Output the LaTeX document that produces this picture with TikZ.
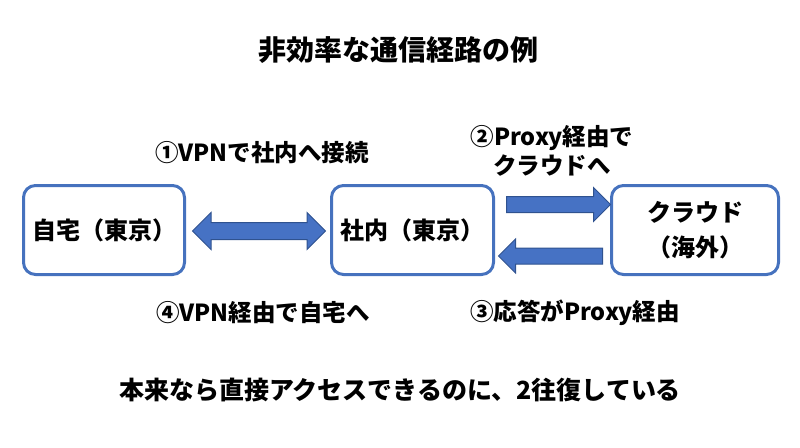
\documentclass[tikz,border=0pt]{standalone}
\usepackage{fontspec}
\setmainfont{Noto Sans CJK JP}[BoldFont={Noto Sans CJK JP Black}]
\usetikzlibrary{shapes.arrows}

\definecolor{boxline}{RGB}{70,114,190}
\definecolor{arrowfill}{RGB}{70,114,196}
\definecolor{arrowline}{RGB}{47,82,143}

\begin{document}
\begin{tikzpicture}[x=1pt,y=-1pt,
  site/.style={draw=boxline,line width=3pt,rounded corners=12pt,minimum height=89pt,
    font=\fontsize{24}{35}\selectfont\bfseries,align=center},
  note/.style={font=\fontsize{23.5}{29}\selectfont\bfseries,align=center},
  fatarrow/.style={single arrow,draw=arrowline,fill=arrowfill,line width=1pt,
    inner sep=0pt,inner ysep=7.5pt,single arrow head extend=9pt,minimum height=104pt},
  twoway/.style={double arrow,draw=arrowline,fill=arrowfill,line width=1pt,
    inner sep=0pt,inner ysep=8pt,double arrow head extend=10pt,minimum height=133pt}]
\useasboundingbox (0,0) rectangle (800,447);
\node[font=\fontsize{28}{32}\selectfont\bfseries] (title) at (398,50) {非効率な通信経路の例};
\node[site,minimum width=161pt] (home) at (104,230) {自宅（東京）};
\node[site,minimum width=162pt] (office) at (412.5,230) {社内（東京）};
\node[site,minimum width=167pt] (cloud) at (695,230) {クラウド\\（海外）};
\node[twoway] (vpn) at (259,231) {};
\node[fatarrow] (go) at (554.5,204.5) {};
\node[fatarrow,shape border rotate=180] (back) at (554.5,256) {};
\node[note] (step1) at (262,153) {①VPNで社内へ接続};
\node[note] (step2) at (552,151) {②Proxy経由で\\クラウドへ};
\node[note] (step3) at (575,313) {③応答がProxy経由};
\node[note] (step4) at (263,313) {④VPN経由で自宅へ};
\node[font=\fontsize{25}{28}\selectfont\bfseries] (summary) at (400,390) {本来なら直接アクセスできるのに、2往復している};
\end{tikzpicture}
\end{document}
